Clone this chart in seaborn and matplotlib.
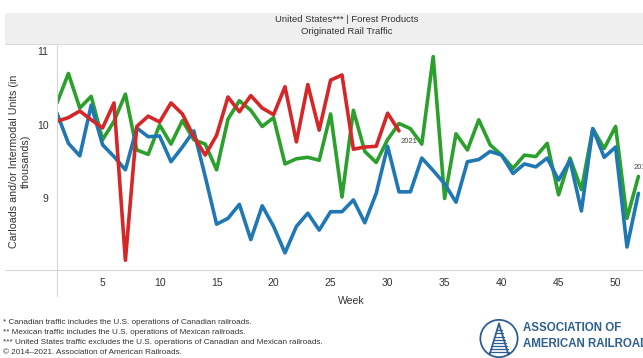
import numpy as np
import pandas as pd
import matplotlib.pyplot as plt
import matplotlib.patches as mpatches
from matplotlib.lines import Line2D
import seaborn as sns

# weekly originated carloads, in thousands
weeks_2019 = list(range(1, 53))
carloads_2019 = [10.30, 10.70, 10.23, 10.39, 9.80, 10.05, 10.42, 9.66, 9.60, 10.00,
                 9.74, 10.06, 9.80, 9.74, 9.39, 10.08, 10.33, 10.20, 9.98, 10.10,
                 9.47, 9.54, 9.56, 9.52, 10.15, 9.02, 10.20, 9.64, 9.49, 9.80,
                 10.02, 9.95, 9.74, 10.93, 9.00, 9.88, 9.66, 10.07, 9.73, 9.59,
                 9.41, 9.59, 9.57, 9.75, 9.05, 9.55, 9.12, 9.95, 9.68, 9.98,
                 8.73, 9.30]

weeks_2020 = list(range(1, 53))
carloads_2020 = [10.16, 9.75, 9.58, 10.27, 9.73, 9.57, 9.39, 9.96, 9.84, 9.85,
                 9.50, 9.70, 9.92, 9.30, 8.65, 8.73, 8.92, 8.44, 8.90, 8.62,
                 8.26, 8.62, 8.80, 8.57, 8.82, 8.82, 8.98, 8.67, 9.07, 9.71,
                 9.09, 9.09, 9.55, 9.38, 9.20, 8.95, 9.50, 9.53, 9.64, 9.59,
                 9.34, 9.47, 9.43, 9.55, 9.25, 9.52, 8.83, 9.95, 9.56, 9.70,
                 8.34, 9.07]

weeks_2021 = list(range(1, 32))
carloads_2021 = [10.05, 10.10, 10.19, 10.07, 9.96, 10.30, 8.16, 9.98, 10.12, 10.04,
                 10.30, 10.15, 9.84, 9.59, 9.86, 10.38, 10.18, 10.40, 10.23, 10.14,
                 10.52, 9.77, 10.55, 9.93, 10.61, 10.68, 9.67, 9.70, 9.71, 10.16,
                 9.92]

years = ["2019", "2020", "2021"]
year_colors = {"2019": "#2ca02c", "2020": "#1f77b4", "2021": "#d62728"}

x_ticks = [5, 10, 15, 20, 25, 30, 35, 40, 45, 50]
y_ticks = [9, 10, 11]

footnotes = [
    "* Canadian traffic includes the U.S. operations of Canadian railroads.",
    "** Mexican traffic includes the U.S. operations of Mexican railroads.",
    "*** United States traffic excludes the U.S. operations of Canadian and Mexican railroads.",
    "\u00a9 2014\u20132021. Association of American Railroads.",
]

df = pd.concat([
    pd.DataFrame({"week": weeks_2019, "carloads": carloads_2019, "year": "2019"}),
    pd.DataFrame({"week": weeks_2020, "carloads": carloads_2020, "year": "2020"}),
    pd.DataFrame({"week": weeks_2021, "carloads": carloads_2021, "year": "2021"}),
], ignore_index=True)

sns.set_theme(style="white")
plt.rcParams['font.family'] = ['Liberation Sans', 'DejaVu Sans']

W, H = 643, 358
fig = plt.figure(figsize=(W / 100, H / 100), dpi=100)


def fx(px):
    return px / W


def fy(py):
    return 1 - py / H


# grey header band with the title
fig.patches.append(mpatches.Rectangle((fx(5), fy(44)), fx(640), 31 / H,
                                      transform=fig.transFigure, facecolor="#efefef",
                                      edgecolor="none", zorder=0))
fig.lines.append(Line2D([fx(5), 1], [fy(44), fy(44)], transform=fig.transFigure,
                        color="#dcdcdc", lw=0.8))
fig.text(fx(347), fy(19), "United States*** | Forest Products", ha="center", va="center",
         fontsize=6.8, color="#333333")
fig.text(fx(347), fy(31), "Originated Rail Traffic", ha="center", va="center",
         fontsize=6.8, color="#333333")

# main plot area: week axis runs off the right edge like the source
ax = fig.add_axes([fx(57), fy(270), 52 * 11.4 / W, 225 / H])
sns.lineplot(data=df, x="week", y="carloads", hue="year", hue_order=years,
             palette=year_colors, linewidth=2.6, legend=False, ax=ax)

ax.set_xlim(1, 53)
ax.set_ylim(8.027, 11.088)
ax.set_xticks(x_ticks)
ax.set_yticks(y_ticks)
ax.tick_params(axis="both", length=0, labelsize=7.5, colors="#333333", pad=6)
ax.set_xlabel("")
ax.set_ylabel("")
for side in ["top", "right", "left", "bottom"]:
    ax.spines[side].set_visible(False)

# year labels at line ends
ax.text(31.1, 9.77, "2021", fontsize=5.5, color="#444444", ha="left", va="center")
ax.text(51.6, 9.42, "2019", fontsize=5.5, color="#444444", ha="left", va="center")

# frame lines that extend past the plot
fig.lines.append(Line2D([fx(57), fx(57)], [fy(45), fy(296)], transform=fig.transFigure,
                        color="#d6d6d6", lw=0.8))
fig.lines.append(Line2D([fx(5), 1], [fy(270), fy(270)], transform=fig.transFigure,
                        color="#d6d6d6", lw=0.8))

fig.text(fx(20), fy(161), "Carloads and/or Intermodal Units (in\nthousands)",
         rotation=90, ha="center", va="center", multialignment="center",
         fontsize=7.7, color="#333333")
fig.text(fx(351), fy(301), "Week", ha="center", va="center", fontsize=7.5,
         color="#333333")

for i, note in enumerate(footnotes):
    fig.text(fx(3), fy(322 + i * 10.3), note, ha="left", va="center", fontsize=5.9,
             color="#333333")

# AAR logo (rough sketch) + name
logo_blue = "#2f5f92"
lax = fig.add_axes([fx(477), fy(359), fx(44), 41 / H])
lax.set_xlim(-1.1, 1.1)
lax.set_ylim(-1.1, 1.1)
lax.set_aspect("equal")
lax.axis("off")
lax.add_patch(mpatches.Circle((0, 0), 1.0, fill=False, edgecolor=logo_blue, lw=1.3))
lax.plot([-0.5, 0], [-0.85, 0.8], color=logo_blue, lw=1.3)
lax.plot([0.5, 0], [-0.85, 0.8], color=logo_blue, lw=1.3)
for yy in np.linspace(-0.75, 0.45, 8):
    half = 0.5 * (0.8 - yy) / 1.65 + 0.08
    lax.plot([-half, half], [yy, yy], color=logo_blue, lw=0.9)

fig.text(fx(523), fy(328), "ASSOCIATION OF", ha="left", va="center", fontsize=8.3,
         fontweight="bold", color=logo_blue)
fig.text(fx(523), fy(344), "AMERICAN RAILROADS", ha="left", va="center", fontsize=8.3,
         fontweight="bold", color=logo_blue)

fig.savefig("out.png", dpi=100)
